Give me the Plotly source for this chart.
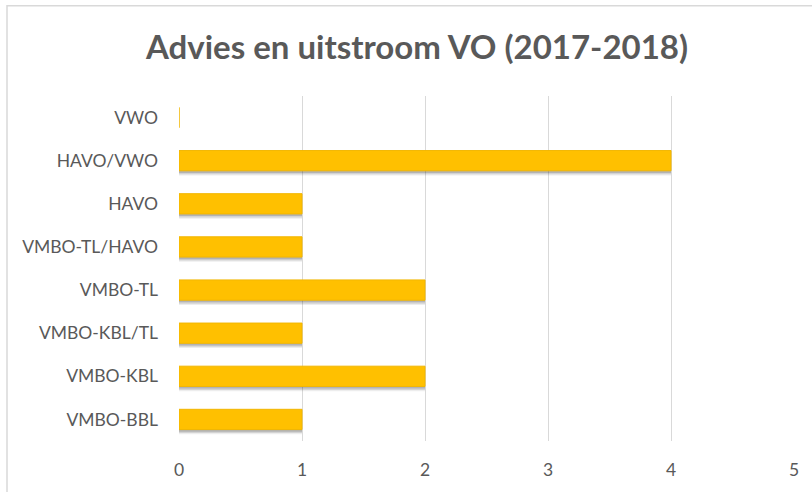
import plotly.graph_objects as go

categories = ["VMBO-BBL", "VMBO-KBL", "VMBO-KBL/TL", "VMBO-TL", "VMBO-TL/HAVO", "HAVO", "HAVO/VWO", "VWO"]
values = [1, 2, 1, 2, 1, 1, 4, 0]
x_ticks = [0, 1, 2, 3, 4, 5]
title_text = "Advies en uitstroom VO (2017-2018)"

W, H = 812, 492
ml, mr, mt, mb = 179, 18, 96, 48
pw, ph = W - ml - mr, H - mt - mb

bar_w = 0.47
fig = go.Figure()
# soft shadow layers
for dy, alpha in [(0.11, 0.07), (0.08, 0.11), (0.05, 0.15)]:
    fig.add_trace(go.Bar(
        y=categories, x=values, orientation="h",
        width=bar_w, offset=-bar_w / 2 - dy,
        marker=dict(color=f"rgba(0,0,0,{alpha})", line=dict(width=0)),
        hoverinfo="skip", showlegend=False,
    ))
fig.add_trace(go.Bar(
    y=categories, x=values, orientation="h",
    width=bar_w, offset=-bar_w / 2,
    marker=dict(color="#FFC000", line=dict(color="#F2B600", width=1)),
    showlegend=False,
))

font_family = "Lato, 'Open Sans', sans-serif"
fig.update_layout(
    width=W, height=H,
    margin=dict(l=ml, r=mr, t=mt, b=mb),
    paper_bgcolor="white", plot_bgcolor="white",
    barmode="overlay",
    title=dict(text="<b>" + title_text + "</b>", x=417 / W, xanchor="center", y=1 - 47 / H, yanchor="middle",
               font=dict(family=font_family, size=33, color="#595959")),
    font=dict(family=font_family, size=17.5, color="#595959"),
    xaxis=dict(range=[0, 5], tickvals=x_ticks, showgrid=True, gridcolor="#D9D9D9", gridwidth=1,
               zeroline=False, showline=False, ticks="", ticklabelstandoff=16,
               tickfont=dict(size=17.5, color="#595959"), fixedrange=True),
    yaxis=dict(categoryorder="array", categoryarray=categories, range=[-0.5, 7.5],
               showgrid=False, zeroline=False, showline=False, ticks="", ticklabelstandoff=20,
               tickfont=dict(size=17.5, color="#595959"), fixedrange=True),
    shapes=[dict(type="rect", xref="paper", yref="paper",
                 x0=(7 - ml) / pw, x1=1.2, y0=-0.3, y1=1 + (mt - 5) / ph,
                 line=dict(color="#D9D9D9", width=1.5), fillcolor="rgba(0,0,0,0)", layer="below")],
)

fig.write_html("out.html")
